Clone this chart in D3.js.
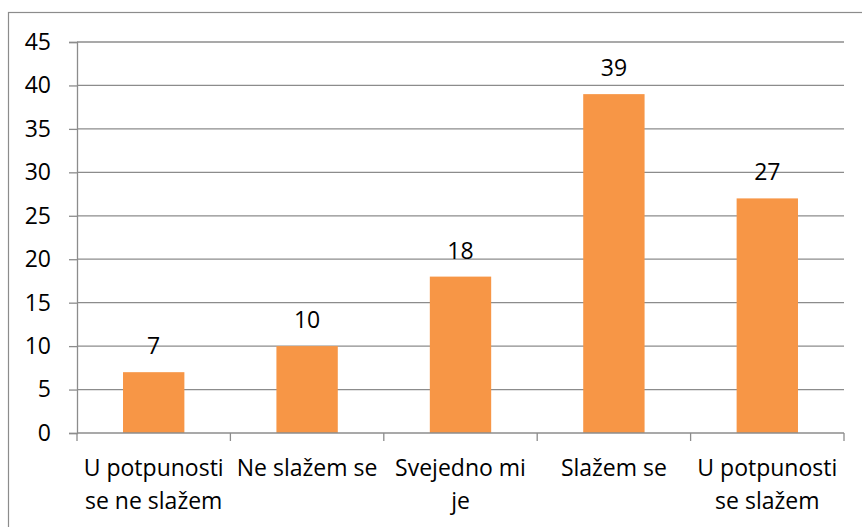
<!DOCTYPE html>
<html><head><meta charset="utf-8">
<script src="https://cdn.jsdelivr.net/npm/d3@7"></script>
<style>body{margin:0;background:#fff}svg{display:block}</style>
</head><body><svg id="c" width="862" height="527"></svg>
<script>
const categories = [["U potpunosti","se ne slažem"],["Ne slažem se"],["Svejedno mi","je"],["Slažem se"],["U potpunosti","se slažem"]];
const values = [7,10,18,39,27];
const yTicks = [0,5,10,15,20,25,30,35,40,45];

const svg = d3.select("#c");
const font = "'Open Sans', sans-serif";
const fs = 23;
const gray = "#8c8c8c";
const pLeft = 77, pRight = 844, pTop = 42, pBottom = 433;

svg.append("rect").attr("x",8.5).attr("y",12.5).attr("width",870).attr("height",530)
  .attr("fill","#fff").attr("stroke",gray).attr("stroke-width",1.2);

const x = d3.scaleBand().domain(d3.range(values.length)).range([pLeft,pRight]).paddingInner(0.6).paddingOuter(0.3);
const y = d3.scaleLinear().domain([0,45]).range([pBottom,pTop]);

// gridlines
svg.append("g").selectAll("line").data(yTicks.filter(d=>d>0)).join("line")
  .attr("x1",pLeft).attr("x2",pRight).attr("y1",d=>y(d)).attr("y2",d=>y(d))
  .attr("stroke",gray).attr("stroke-width",1.3);

// y axis
const ya = svg.append("g").attr("transform",`translate(${pLeft},0)`)
  .call(d3.axisLeft(y).tickValues(yTicks).tickSize(8).tickPadding(18).tickFormat(d3.format("d")));
ya.select(".domain").attr("stroke",gray).attr("stroke-width",1.3);
ya.selectAll(".tick line").attr("stroke",gray).attr("stroke-width",1.3);
ya.selectAll("text").attr("font-family",font).attr("font-size",fs).attr("fill","#000");

// bars
svg.append("g").selectAll("rect").data(values).join("rect")
  .attr("x",(d,i)=>x(i)).attr("width",x.bandwidth())
  .attr("y",d=>y(d)).attr("height",d=>y(0)-y(d)).attr("fill","#F79646");

// x axis line and ticks at category boundaries
const step = (pRight-pLeft)/values.length;
svg.append("line").attr("x1",pLeft).attr("x2",pRight).attr("y1",pBottom).attr("y2",pBottom)
  .attr("stroke",gray).attr("stroke-width",1.3);
svg.append("g").selectAll("line").data(d3.range(values.length+1)).join("line")
  .attr("x1",i=>pLeft+i*step).attr("x2",i=>pLeft+i*step).attr("y1",pBottom).attr("y2",pBottom+8)
  .attr("stroke",gray).attr("stroke-width",1.3);

// value labels
svg.append("g").selectAll("text").data(values).join("text")
  .attr("x",(d,i)=>x(i)+x.bandwidth()/2).attr("y",d=>y(d)-18)
  .attr("text-anchor","middle").attr("font-family",font).attr("font-size",fs).attr("fill","#000")
  .text(d=>d);

// category labels
const cl = svg.append("g").selectAll("text").data(categories).join("text")
  .attr("text-anchor","middle").attr("font-family",font).attr("font-size",fs).attr("fill","#000");
cl.each(function(lines,i){
  d3.select(this).selectAll("tspan").data(lines).join("tspan")
    .attr("x",x(i)+x.bandwidth()/2).attr("y",(l,j)=>476+j*33).text(l=>l);
});
</script></body></html>
